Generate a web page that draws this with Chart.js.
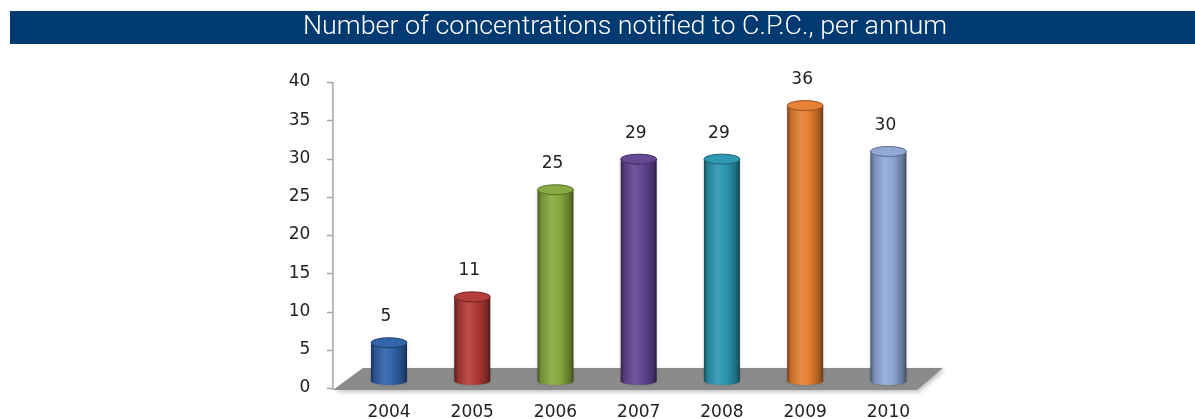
<!DOCTYPE html>
<html>
<head>
<meta charset="utf-8">
<title>Concentrations notified to C.P.C.</title>
<script src="https://cdn.jsdelivr.net/npm/chart.js@4.4.0/dist/chart.umd.min.js"></script>
<style>
    html, body { margin: 0; padding: 0; background: #ffffff; }
    #wrap { width: 1195px; height: 419px; }
</style>
</head>
<body>
<div id="wrap"><canvas id="concChart" width="1195" height="419"></canvas></div>
<script>
(function () {
    "use strict";

    var years = ["2004", "2005", "2006", "2007", "2008", "2009", "2010"];
    var notified = [5, 11, 25, 29, 29, 36, 30];
    var yMin = 0;
    var yMax = 40;
    var yStep = 5;
    var chartTitle = "Number of concentrations notified to C.P.C., per annum";

    // one colour per year
    var barColors = ["#2f62a8", "#b13a36", "#86a83e", "#634491", "#2b96b0", "#e57e31", "#8ea7d6"];

    var DEPTH = 7; // cylinders stand in the middle of the floor

    function shade(hex, f) {
        var n = parseInt(hex.slice(1), 16);
        var r = (n >> 16) & 255, g = (n >> 8) & 255, b = n & 255;
        function mix(c) {
            return Math.round(f < 0 ? c * (1 + f) : c + (255 - c) * f);
        }
        return "rgb(" + mix(r) + "," + mix(g) + "," + mix(b) + ")";
    }

    /* blue header band with the title */
    var headerBand = {
        id: "headerBand",
        beforeDraw: function (chart) {
            var ctx = chart.ctx;
            ctx.save();
            ctx.fillStyle = "#003a70";
            ctx.fillRect(10, 11, chart.width - 10, 33);
            ctx.font = "300 25px Roboto, 'Liberation Sans', sans-serif";
            ctx.fillStyle = "#ffffff";
            ctx.textAlign = "center";
            ctx.textBaseline = "middle";
            var w = ctx.measureText(chartTitle).width;
            ctx.translate(625, 28);
            ctx.scale(644 / w, 1);
            ctx.fillText(chartTitle, 0, 0);
            ctx.restore();
        }
    };

    /* grey floor and the y axis line */
    var floorAndAxis = {
        id: "floorAndAxis",
        beforeDatasetsDraw: function (chart) {
            var ctx = chart.ctx;
            var xs = chart.scales.x, ys = chart.scales.y;
            var axisX = chart.chartArea.left - 14.5;
            var front = ys.getPixelForValue(0) + 2;
            var back = front - 22;
            var right = xs.right - 13;

            ctx.save();
            ctx.shadowColor = "rgba(0,0,0,0.25)";
            ctx.shadowBlur = 4;
            ctx.shadowOffsetX = 2;
            ctx.shadowOffsetY = 2;
            ctx.beginPath();
            ctx.moveTo(axisX, front);
            ctx.lineTo(right, front);
            ctx.lineTo(right + 26, back);
            ctx.lineTo(axisX + 30, back);
            ctx.closePath();
            ctx.fillStyle = "#8b8b8b";
            ctx.fill();
            ctx.restore();

            ctx.save();
            ctx.strokeStyle = "#a6a6a6";
            ctx.lineWidth = 1.5;
            ctx.beginPath();
            ctx.moveTo(axisX, ys.getPixelForValue(yMax));
            ctx.lineTo(axisX, front);
            ys.ticks.forEach(function (t) {
                var py = Math.round(ys.getPixelForValue(t.value)) + 0.5;
                ctx.moveTo(axisX - 6, py);
                ctx.lineTo(axisX, py);
            });
            ctx.stroke();
            ctx.restore();
        }
    };

    /* cylinders and value labels */
    var cylinders = {
        id: "cylinders",
        afterDatasetsDraw: function (chart) {
            var ctx = chart.ctx;
            var meta = chart.getDatasetMeta(0);
            meta.data.forEach(function (bar, i) {
                var p = bar.getProps(["x", "y", "base", "width"], true);
                var c = barColors[i];
                var hw = p.width / 2;
                var left = p.x - hw, right = p.x + hw;
                var top = p.y - DEPTH, bottom = p.base - DEPTH;

                ctx.save();
                var grad = ctx.createLinearGradient(left, 0, right, 0);
                grad.addColorStop(0, shade(c, -0.5));
                grad.addColorStop(0.1, shade(c, -0.15));
                grad.addColorStop(0.38, shade(c, 0.1));
                grad.addColorStop(0.62, c);
                grad.addColorStop(0.9, shade(c, -0.3));
                grad.addColorStop(1, shade(c, -0.55));

                ctx.shadowColor = "rgba(0,0,0,0.2)";
                ctx.shadowBlur = 3;
                ctx.beginPath();
                ctx.moveTo(left, top);
                ctx.lineTo(left, bottom);
                ctx.ellipse(p.x, bottom, hw, 4, 0, Math.PI, 0, true);
                ctx.lineTo(right, top);
                ctx.closePath();
                ctx.fillStyle = grad;
                ctx.fill();
                ctx.shadowColor = "transparent";

                ctx.beginPath();
                ctx.ellipse(p.x, top, hw, 5, 0, 0, Math.PI * 2);
                ctx.fillStyle = shade(c, 0.02);
                ctx.fill();
                ctx.lineWidth = 1;
                ctx.strokeStyle = shade(c, -0.35);
                ctx.stroke();
                ctx.restore();

                ctx.save();
                ctx.font = "17px 'DejaVu Sans', sans-serif";
                ctx.fillStyle = "#222222";
                ctx.textAlign = "center";
                ctx.textBaseline = "middle";
                ctx.fillText(String(notified[i]), p.x - 3, top - 26);
                ctx.restore();
            });
        }
    };

    var ctx = document.getElementById("concChart");
    var myChart = new Chart(ctx, {
        type: "bar",
        data: {
            labels: years,
            datasets: [
                {
                    label: "Concentrations",
                    data: notified,
                    backgroundColor: "transparent",
                    borderWidth: 0,
                    barThickness: 36,
                },
            ],
        },
        options: {
            responsive: false,
            devicePixelRatio: 1,
            animation: false,
            layout: {
                padding: { left: 0, right: 265, top: 82, bottom: 0 },
            },
            plugins: {
                legend: { display: false },
                tooltip: { enabled: false },
                title: { display: false },
            },
            scales: {
                x: {
                    grid: { display: false, drawTicks: false },
                    border: { display: false },
                    ticks: {
                        padding: 14,
                        color: "#222222",
                        font: { family: "'DejaVu Sans', sans-serif", size: 17 },
                    },
                    afterFit: function (scale) {
                        scale.height = 31;
                    },
                },
                y: {
                    min: yMin,
                    max: yMax,
                    grid: { display: false, drawTicks: false },
                    border: { display: false },
                    ticks: {
                        stepSize: yStep,
                        padding: 37,
                        color: "#222222",
                        font: { family: "'DejaVu Sans', sans-serif", size: 17 },
                    },
                    afterFit: function (scale) {
                        scale.width = 347.4;
                        // the wide label padding must not shrink the plot vertically
                        scale.paddingTop = 0;
                        scale.paddingBottom = 0;
                    },
                },
            },
        },
        plugins: [headerBand, floorAndAxis, cylinders],
    });
})();
</script>
</body>
</html>
